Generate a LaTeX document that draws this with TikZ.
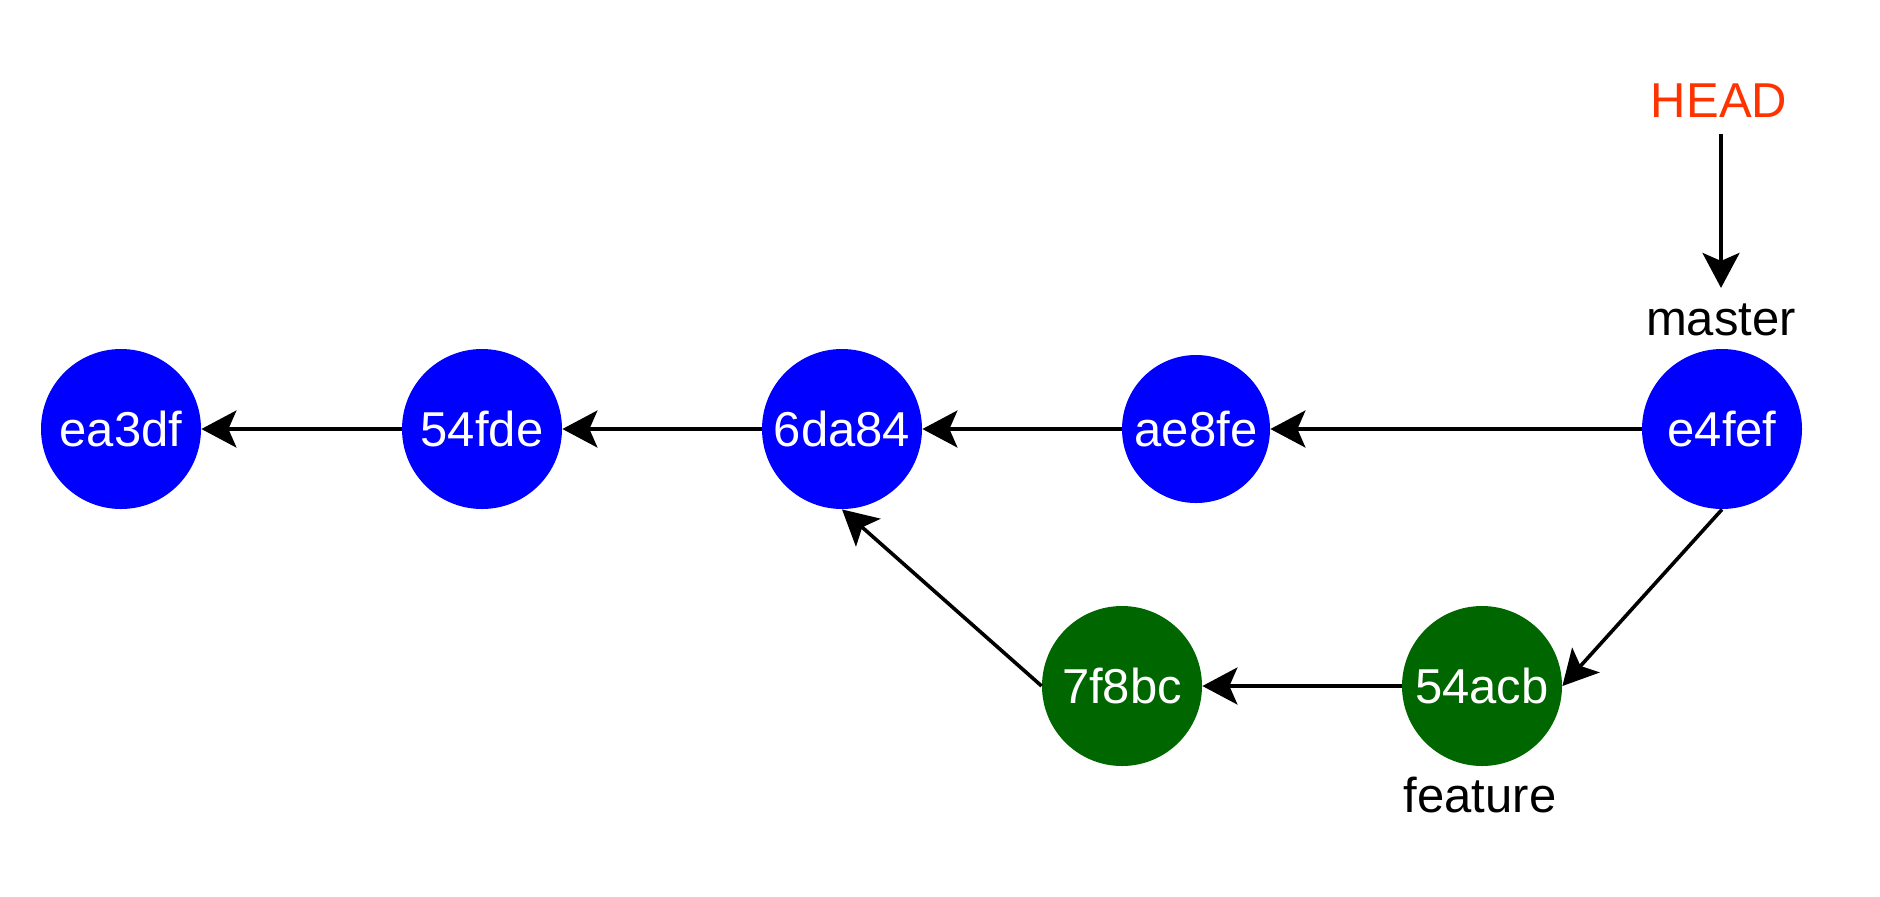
\documentclass[tikz,border=0pt]{standalone}
\usepackage{fontspec}
\setmainfont{Liberation Sans}
\usetikzlibrary{arrows.meta}
\definecolor{cblue}{HTML}{0000FF}
\definecolor{cgreen}{HTML}{006600}
\definecolor{headred}{HTML}{FF3300}
\begin{document}
\begin{tikzpicture}[x=0.5pt,y=-0.5pt,
  commit/.style={circle, minimum size=80pt, inner sep=0pt, text=white,
    font=\fontsize{24.5}{29}\selectfont},
  mcommit/.style={commit, fill=cblue},
  fcommit/.style={commit, fill=cgreen},
  lbl/.style={anchor=base, inner sep=0pt, font=\fontsize{24.5}{29}\selectfont},
  arr/.style={line width=1.8pt, -{Stealth[length=17.5pt,width=18.5pt,inset=4pt]}}
]
\useasboundingbox (0,0) rectangle (1880,896);
\node[mcommit] (ea3df) at (121,429) {ea3df};
\node[mcommit] (54fde) at (482,429) {54fde};
\node[mcommit] (6da84) at (842,429) {6da84};
\node[mcommit, minimum size=74pt] (ae8fe) at (1196,429) {ae8fe};
\node[mcommit] (e4fef) at (1722,429) {e4fef};
\node[fcommit] (7f8bc) at (1122,686) {7f8bc};
\node[fcommit] (54acb) at (1482,686) {54acb};
\node[lbl, text=headred] (head) at (1719,117) {HEAD};
\node[lbl] (master) at (1721,335) {master};
\node[lbl] (feature) at (1480,812) {feature};

\draw[arr] (54fde.west) -- (ea3df.east);
\draw[arr] (6da84.west) -- (54fde.east);
\draw[arr] (ae8fe.west) -- (6da84.east);
\draw[arr] (e4fef.west) -- (ae8fe.east);
\draw[arr] (e4fef.south) -- (54acb.east);
\draw[arr] (54acb.west) -- (7f8bc.east);
\draw[arr] (7f8bc.west) -- (6da84.south);
\draw[arr] ([xshift=1pt,yshift=-8.5pt]head.south) -- ([yshift=7.5pt]master.north);
\end{tikzpicture}
\end{document}
